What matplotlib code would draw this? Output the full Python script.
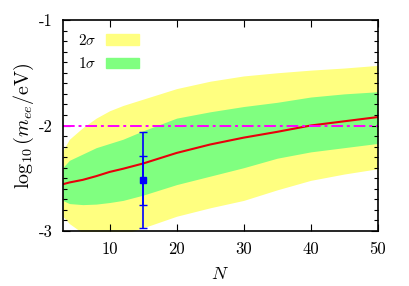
import matplotlib
matplotlib.use("Agg")
import matplotlib.pyplot as plt
from matplotlib.patches import Patch
from matplotlib.ticker import MultipleLocator

plt.rcParams['font.family'] = 'cmr10'
plt.rcParams['mathtext.fontset'] = 'cm'
plt.rcParams['axes.unicode_minus'] = False

# band data
N = [3, 4, 6, 8, 10, 12, 15, 20, 25, 30, 35, 40, 45, 50]
central = [-2.557, -2.54, -2.515, -2.48, -2.44, -2.41, -2.36, -2.26, -2.18, -2.115, -2.06, -2.00, -1.96, -1.92]
one_up = [-2.40, -2.33, -2.27, -2.21, -2.17, -2.13, -2.05, -1.93, -1.87, -1.82, -1.78, -1.73, -1.70, -1.68]
one_lo = [-2.71, -2.74, -2.75, -2.745, -2.73, -2.71, -2.66, -2.56, -2.48, -2.40, -2.31, -2.25, -2.21, -2.17]
two_up = [-2.24, -2.13, -2.02, -1.93, -1.86, -1.81, -1.75, -1.65, -1.58, -1.53, -1.50, -1.475, -1.455, -1.43]
two_lo = [-2.86, -2.93, -3.02, -3.05, -3.05, -3.03, -2.97, -2.86, -2.78, -2.71, -2.61, -2.52, -2.46, -2.41]

# measured point
pt_N = [15]
pt_val = [-2.52]
err_1s = [0.23]
err_2s = [0.455]
ref_line = -2.0

fig = plt.figure(figsize=(4.09, 2.86), dpi=100)
ax = fig.add_axes([0.1533, 0.1923, 0.7702, 0.7377])

ax.fill_between(N, two_lo, two_up, color='#ffff80', lw=0)
ax.fill_between(N, one_lo, one_up, color='#80ff80', lw=0)
ax.plot(N, central, color='#e8000b', lw=1.5)
ax.axhline(ref_line, color='#ff00ff', lw=1.4, ls=(0, (6, 2, 1.5, 2)))
ax.errorbar(pt_N, pt_val, yerr=err_2s, fmt='none', ecolor='#0000ff', elinewidth=1.2, capsize=3, capthick=1.0)
ax.errorbar(pt_N, pt_val, yerr=err_1s, fmt='s', color='#0000ff', ms=5, elinewidth=1.2, capsize=3, capthick=1.0)

ax.set_xlim(3, 50)
ax.set_ylim(-3, -1)
ax.set_xticks([10, 20, 30, 40, 50])
ax.set_yticks([-1, -2, -3])
ax.set_yticklabels(['-1', '-2', '-3'])
ax.yaxis.set_minor_locator(MultipleLocator(0.1))
ax.tick_params(which='both', direction='in', top=True, right=True, labelsize=12)
ax.tick_params(axis='x', pad=8)
ax.tick_params(axis='y', pad=7)
ax.tick_params(which='major', length=5, width=0.8)
ax.tick_params(which='minor', length=3, width=0.8)
for s in ax.spines.values():
    s.set_linewidth(1.2)

ax.set_xlabel(r'$N$', fontsize=13, labelpad=6)
ax.set_ylabel(r'$\log_{10}(m_{ee}/\mathrm{eV})$', fontsize=14.5, labelpad=2)

handles = [Patch(color='#ffff80', label=r'$2\sigma$'), Patch(color='#80ff80', label=r'$1\sigma$')]
ax.legend(handles=handles, loc='upper left', markerfirst=False, frameon=False, fontsize=11,
          handlelength=2.2, handleheight=0.7, labelspacing=0.55, handletextpad=0.6,
          borderaxespad=0.3, bbox_to_anchor=(0.015, 0.99))

fig.savefig('out.png', dpi=100)
